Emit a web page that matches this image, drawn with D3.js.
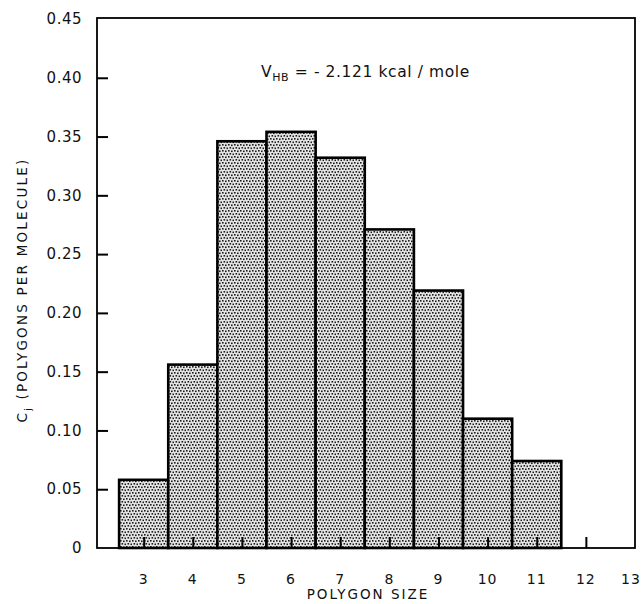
<!DOCTYPE html>
<html>
<head>
<meta charset="utf-8">
<script src="https://cdn.jsdelivr.net/npm/d3@7"></script>
<style>
  body { margin: 0; background: #fff; }
  text { font-family: "DejaVu Sans", "Liberation Sans", Arial, sans-serif; fill: #111; }
</style>
</head>
<body>
<div id="chart"></div>
<script>
// polygon size vs polygons per molecule
const sizes = [3, 4, 5, 6, 7, 8, 9, 10, 11];
const values = [0.058, 0.156, 0.346, 0.354, 0.332, 0.271, 0.219, 0.110, 0.074];
const xTicks = [3, 4, 5, 6, 7, 8, 9, 10, 11, 12, 13];
const yTicks = [0, 0.05, 0.10, 0.15, 0.20, 0.25, 0.30, 0.35, 0.40, 0.45];

const width = 641;
const height = 604;
const margin = { top: 18, right: 6, bottom: 56, left: 97 };

const svg = d3.select("#chart")
    .append("svg")
    .attr("width", width)
    .attr("height", height);

// stipple fill
const pat = svg.append("defs").append("pattern")
    .attr("id", "dots")
    .attr("patternUnits", "userSpaceOnUse")
    .attr("width", 6)
    .attr("height", 6);
pat.append("rect").attr("width", 6).attr("height", 6).attr("fill", "#e6e6e6");
[[0, 0], [3, 0.5], [1.5, 3], [4.5, 3.5]].forEach(p => {
    pat.append("rect")
        .attr("x", p[0]).attr("y", p[1])
        .attr("width", 1.6).attr("height", 1.6)
        .attr("fill", "#1a1a1a");
});

const xScale = d3.scaleLinear()
    .domain([2.05, 13])
    .range([margin.left, width - margin.right]);

const yScale = d3.scaleLinear()
    .domain([0, 0.45])
    .range([548, 19]);

// bars
svg.selectAll("rect.bar")
    .data(sizes)
    .join("rect")
    .attr("class", "bar")
    .attr("x", d => xScale(d - 0.5))
    .attr("y", (d, i) => yScale(values[i]))
    .attr("width", d => xScale(d + 0.5) - xScale(d - 0.5))
    .attr("height", (d, i) => yScale(0) - yScale(values[i]))
    .attr("fill", "url(#dots)")
    .attr("stroke", "#000")
    .attr("stroke-width", 2.6);

// frame
svg.append("rect")
    .attr("x", xScale(2.05))
    .attr("y", yScale(0.45) - 1)
    .attr("width", xScale(13) - xScale(2.05))
    .attr("height", yScale(0) - yScale(0.45) + 1)
    .attr("fill", "none")
    .attr("stroke", "#000")
    .attr("stroke-width", 1.8);

// x axis (ticks pointing inward)
const xAxis = svg.append("g")
    .attr("transform", `translate(0,${yScale(0)})`)
    .call(d3.axisTop(xScale)
        .tickValues(xTicks.filter(t => t < 13))
        .tickSize(11)
        .tickFormat(""));
xAxis.select(".domain").remove();
xAxis.selectAll("line").attr("stroke", "#000").attr("stroke-width", 2);

svg.append("g")
    .selectAll("text")
    .data(xTicks)
    .join("text")
    .attr("x", d => Math.min(xScale(d), width - 10))
    .attr("y", yScale(0) + 36)
    .attr("text-anchor", "middle")
    .attr("font-size", 14)
    .attr("letter-spacing", 1)
    .text(d => d);

// y axis (ticks pointing inward)
const yAxis = svg.append("g")
    .attr("transform", `translate(${xScale(2.05)},0)`)
    .call(d3.axisRight(yScale)
        .tickValues(yTicks.filter(t => t > 0 && t < 0.45))
        .tickSize(11)
        .tickFormat(""));
yAxis.select(".domain").remove();
yAxis.selectAll("line").attr("stroke", "#000").attr("stroke-width", 2);

svg.append("g")
    .selectAll("text")
    .data(yTicks)
    .join("text")
    .attr("x", 82)
    .attr("y", d => yScale(d))
    .attr("dy", "0.35em")
    .attr("text-anchor", "end")
    .attr("font-size", 15)
    .attr("letter-spacing", 0.5)
    .text(d => d === 0 ? "0" : d.toFixed(2));

// axis titles
svg.append("text")
    .attr("x", (xScale(2.05) + xScale(13)) / 2 + 2)
    .attr("y", 599)
    .attr("text-anchor", "middle")
    .attr("font-size", 13.5)
    .attr("letter-spacing", 2)
    .text("POLYGON SIZE");

const yTitle = svg.append("text")
    .attr("transform", "translate(27,290) rotate(-90)")
    .attr("text-anchor", "middle")
    .attr("font-size", 13.5)
    .attr("letter-spacing", 2.2);
yTitle.append("tspan").text("C");
yTitle.append("tspan").attr("font-size", 9).attr("dy", 4).text("j");
yTitle.append("tspan").attr("dy", -4).text("  (POLYGONS  PER  MOLECULE)");

// annotation
const note = svg.append("text")
    .attr("x", 261)
    .attr("y", 77)
    .attr("font-size", 15.5)
    .attr("letter-spacing", 0.6);
note.append("tspan").text("V");
note.append("tspan").attr("font-size", 11).attr("dy", 4).text("HB");
note.append("tspan").attr("dy", -4).text(" = - 2.121  kcal / mole");
</script>
</body>
</html>
